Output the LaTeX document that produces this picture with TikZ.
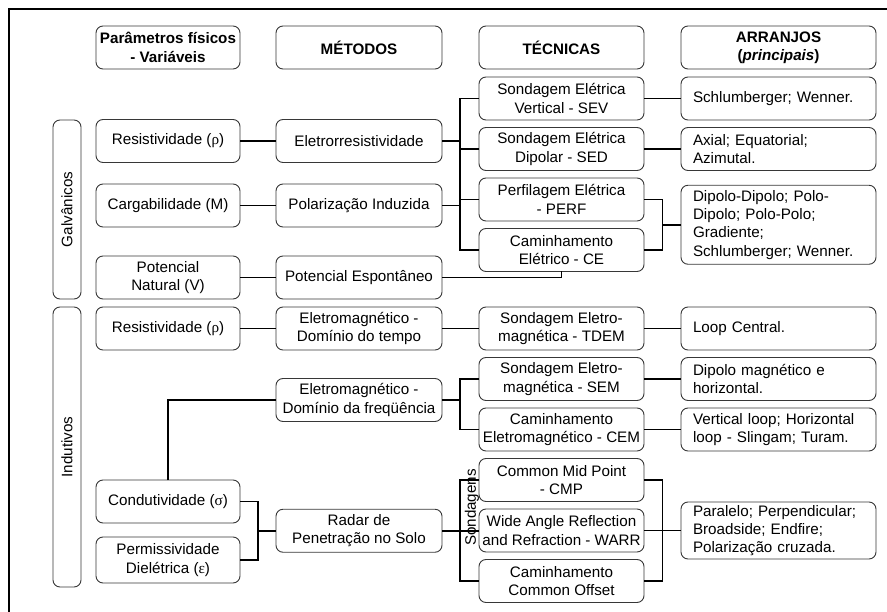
\documentclass[tikz,border=0pt]{standalone}
\usepackage{fontspec}
\setmainfont{Liberation Sans}
\newfontfamily\greekfont{Liberation Serif}
\usepackage{tikz}
\usetikzlibrary{shapes,positioning,calc}
\newcommand{\gsym}[1]{{\greekfont #1}}
\newcommand{\diagfont}{\fontsize{15.2}{18.3}\selectfont}
\definecolor{boxline}{RGB}{55,55,55}
\tikzstyle{head} = [rectangle, rounded corners=7pt, draw=boxline, line width=0.9pt, text=black, align=center, font=\diagfont\bfseries, minimum height=43pt, inner sep=2pt, outer sep=0pt]
\tikzstyle{box} = [rectangle, rounded corners=7pt, draw=boxline, line width=0.9pt, text=black, align=center, font=\diagfont, minimum height=43pt, inner sep=2pt, outer sep=0pt]
\tikzstyle{arr} = [box, align=left, text width=171pt, inner xsep=12pt]
\tikzstyle{side} = [box, rotate=90, minimum height=28pt]
\tikzstyle{link} = [draw, line width=1.6pt]

\begin{document}
\begin{tikzpicture}[x=1pt, y=-1pt]
\useasboundingbox (0,0) rectangle (887,612);
\draw[line width=1.8pt] (9,612) -- (9,9) -- (887,9);

% headers =============================
\node[head, minimum width=144pt] (hpar) at (168,47.5) {Parâmetros físicos\\- Variáveis};
\node[head, minimum width=166pt, right=36pt of hpar] (hmet) {MÉTODOS};
\node[head, minimum width=165pt, right=37pt of hmet] (htec) {TÉCNICAS};
\node[head, minimum width=195pt, right=37pt of htec] (harr) {ARRANJOS\\(\textit{principais})};

% galvanicos =============================
\node[side, minimum width=179pt] (galv) at (67,209.5) {Galvânicos};
\node[box, minimum width=144pt] (res1) at (168,141) {Resistividade (\gsym{ρ})};
\node[box, minimum width=144pt] (carg) at (168,205.5) {Cargabilidade (M)};
\node[box, minimum width=144pt] (potnat) at (168,277.5) {Potencial\\Natural (V)};
\node[box, minimum width=166pt, right=36pt of res1] (eres) {Eletrorresistividade};
\node[box, minimum width=166pt, right=36pt of carg] (polind) {Polarização Induzida};
\node[box, minimum width=166pt, right=36pt of potnat] (potesp) {Potencial Espontâneo};

\node[box, minimum width=165pt] (sev) at (561.5,98.5) {Sondagem Elétrica\\Vertical - SEV};
\node[box, minimum width=165pt, below=7.5pt of sev] (sed) {Sondagem Elétrica\\Dipolar - SED};
\node[box, minimum width=165pt, below=7.5pt of sed] (perf) {Perfilagem Elétrica\\- PERF};
\node[box, minimum width=165pt, below=7.5pt of perf] (ce) {Caminhamento\\Elétrico - CE};

\node[arr, right=37pt of sev] (schw) {Schlumberger; Wenner.};
\node[arr, right=37pt of sed] (axial) {Axial; Equatorial;\\Azimutal.};
\coordinate (mpe) at ($(perf.east)!0.5!(ce.east)$);
\node[arr, minimum height=79pt, right=37pt of mpe] (dipdip) {Dipolo-Dipolo; Polo-\\Dipolo; Polo-Polo;\\Gradiente;\\Schlumberger; Wenner.};

% indutivos =============================
\node[side, minimum width=280pt] (indu) at (67,447) {Indutivos};
\node[box, minimum width=144pt] (res2) at (168,328.5) {Resistividade (\gsym{ρ})};
\node[box, minimum width=144pt] (cond) at (168,501.5) {Condutividade (\gsym{σ})};
\node[box, minimum width=144pt, minimum height=46pt, below=14pt of cond] (perm) {Permissividade\\Dielétrica (\gsym{ε})};
\node[box, minimum width=166pt, right=36pt of res2] (tempo) {Eletromagnético -\\Domínio do tempo};
\node[box, minimum width=166pt] (freq) at (359,400) {Eletromagnético -\\Domínio da freqüência};
\coordinate (j2) at ($(cond.east)!0.5!(perm.east)+(18,0)$);
\node[box, minimum width=166pt, right=18pt of j2] (radar) {Radar de\\Penetração no Solo};

\node[box, minimum width=165pt, below=35.5pt of ce] (tdem) {Sondagem Eletro-\\magnética - TDEM};
\node[box, minimum width=165pt, below=7.5pt of tdem] (sem) {Sondagem Eletro-\\magnética - SEM};
\node[box, minimum width=165pt, below=7.5pt of sem] (cem) {Caminhamento\\Eletromagnético - CEM};
\node[box, minimum width=165pt, below=7.5pt of cem] (cmp) {Common Mid Point\\- CMP};
\node[box, minimum width=165pt, below=7.5pt of cmp] (warr) {Wide Angle Reflection\\and Refraction - WARR};
\node[box, minimum width=165pt, below=7.5pt of warr] (cmo) {Caminhamento\\Common Offset};
\node[rotate=90, font=\diagfont, inner sep=0pt] (sond) at ($(cmp.west)+(-7,27.5)$) {Sondagens};

\node[arr, right=37pt of tdem] (loopc) {Loop Central.};
\node[arr, right=37pt of sem] (dipmag) {Dipolo magnético e\\horizontal.};
\node[arr, right=37pt of cem] (vloop) {Vertical loop; Horizontal\\loop - Slingam; Turam.};
\node[arr, minimum height=57pt, right=37pt of warr] (paral) {Paralelo; Perpendicular;\\Broadside; Endfire;\\Polarização cruzada.};

% edges
\path[link] (res1) -- (eres);
\path[link] (carg) -- (polind);
\path[link] (potnat) -- (potesp);
\coordinate (b1) at ($(sev.west)+(-19,0)$);
\path[link] (sev.west) -- (b1) |- (ce.west);
\path[link] (sed.west) -- (sed.west -| b1);
\path[link] (perf.west) -- (perf.west -| b1);
\path[link] (eres.east) -- (eres.east -| b1);
\path[link] (polind.east) -- (polind.east -| b1);
\path[link] (potesp.east) -| (ce.south);
\path[link] (sev) -- (schw);
\path[link] (sed) -- (axial);
\coordinate (j1) at ($(mpe)+(18.5,0)$);
\path[link] (perf.east) -| (j1) |- (ce.east);
\path[link] (j1) -- (dipdip.west);

\path[link] (res2) -- (tempo);
\path[link] (tempo) -- (tdem);
\path[link] (tdem) -- (loopc);
\path[link] (cond.north) |- (freq.west);
\coordinate (b2) at ($(sem.west)+(-19,0)$);
\path[link] (sem.west) -- (b2) |- (cem.west);
\path[link] (freq.east) -- (freq.east -| b2);
\path[link] (sem) -- (dipmag);
\path[link] (cem) -- (vloop);
\path[link] (cond.east) -| (j2) |- (perm.east);
\path[link] (j2) -- (radar.west);
\coordinate (b3) at ($(cmp.west)+(-19,0)$);
\path[link] (cmp.west) -- (b3) |- (cmo.west);
\path[link] (radar.east) -- (radar.east -| warr.west);
\coordinate (j3) at ($(warr.east)+(18.5,0)$);
\path[link] (cmp.east) -| (j3) |- (cmo.east);
\path[link] (warr.east) -- (paral.west);

\end{tikzpicture}
\end{document}
